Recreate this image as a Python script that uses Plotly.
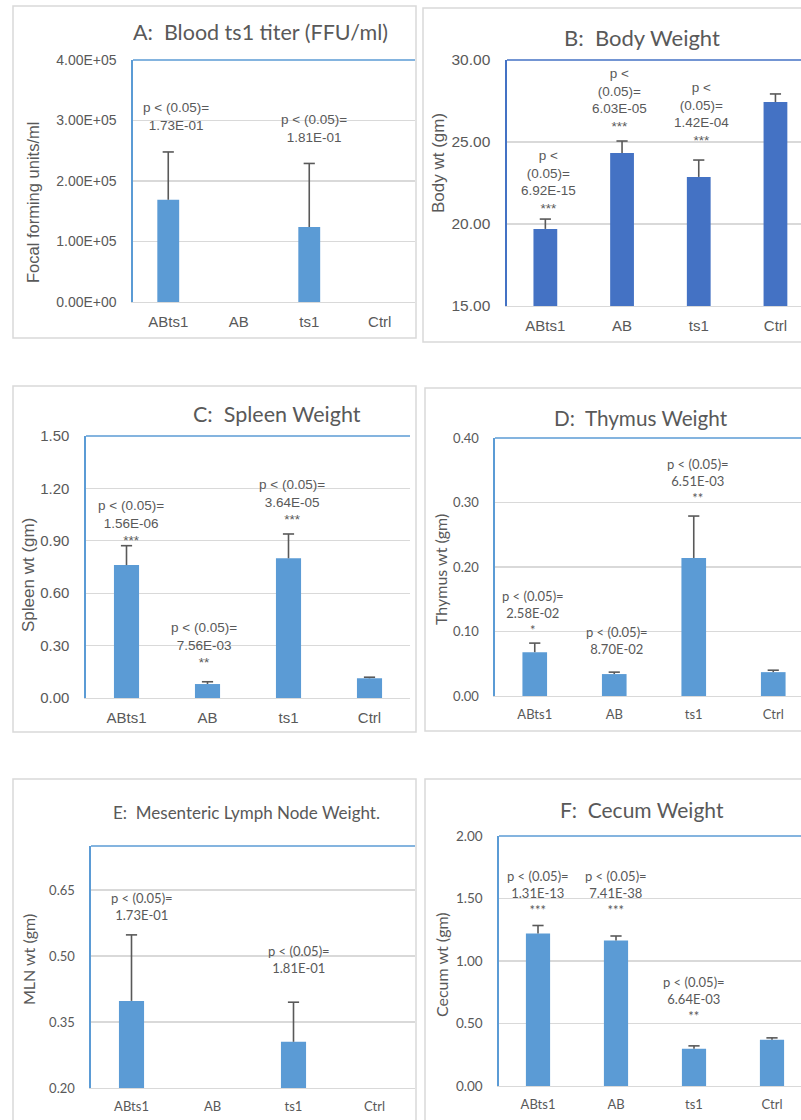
import plotly.graph_objects as go

W, H = 801, 1120
categories = ["ABts1", "AB", "ts1", "Ctrl"]

# ---------------- data ----------------
# A: Blood ts1 titer
titer_mean = [1.69e5, None, 1.24e5, None]
titer_err = [0.79e5, 0, 1.05e5, 0]
titer_p = ["1.73E-01", None, "1.81E-01", None]
titer_stars = ["", "", "", ""]
titer_tickvals = [0, 1e5, 2e5, 3e5, 4e5]
titer_ticktext = ["0.00E+00", "1.00E+05", "2.00E+05", "3.00E+05", "4.00E+05"]

# B: Body weight
body_mean = [19.70, 24.33, 22.87, 27.44]
body_err = [0.60, 0.73, 1.03, 0.49]
body_p = ["6.92E-15", "6.03E-05", "1.42E-04", None]
body_stars = ["***", "***", "***", ""]
body_tickvals = [15, 20, 25, 30]
body_ticktext = ["15.00", "20.00", "25.00", "30.00"]

# C: Spleen weight
spleen_mean = [0.761, 0.080, 0.800, 0.113]
spleen_err = [0.111, 0.013, 0.139, 0.006]
spleen_p = ["1.56E-06", "7.56E-03", "3.64E-05", None]
spleen_stars = ["***", "**", "***", ""]
spleen_tickvals = [0, 0.3, 0.6, 0.9, 1.2, 1.5]
spleen_ticktext = ["0.00", "0.30", "0.60", "0.90", "1.20", "1.50"]

# D: Thymus weight
thymus_mean = [0.068, 0.034, 0.214, 0.037]
thymus_err = [0.014, 0.003, 0.065, 0.003]
thymus_p = ["2.58E-02", "8.70E-02", "6.51E-03", None]
thymus_stars = ["*", "", "**", ""]
thymus_tickvals = [0, 0.1, 0.2, 0.3, 0.4]
thymus_ticktext = ["0.00", "0.10", "0.20", "0.30", "0.40"]

# E: Mesenteric lymph node weight
mln_mean = [0.398, None, 0.305, None]
mln_err = [0.150, 0, 0.090, 0]
mln_p = ["1.73E-01", None, "1.81E-01", None]
mln_stars = ["", "", "", ""]
mln_tickvals = [0.20, 0.35, 0.50, 0.65]
mln_ticktext = ["0.20", "0.35", "0.50", "0.65"]

# F: Cecum weight
cecum_mean = [1.220, 1.164, 0.297, 0.370]
cecum_err = [0.064, 0.036, 0.024, 0.015]
cecum_p = ["1.31E-13", "7.41E-38", "6.64E-03", None]
cecum_stars = ["***", "***", "**", ""]
cecum_tickvals = [0, 0.5, 1.0, 1.5, 2.0]
cecum_ticktext = ["0.00", "0.50", "1.00", "1.50", "2.00"]

# ---------------- layout / styling ----------------
ARIAL = "Liberation Sans, Arial, sans-serif"
CALIBRI = "Lato, Carlito, sans-serif"
GRAY = "#595959"
GRID = "#D9D9D9"
BLUE = "#5B9BD5"
DBLUE = "#4472C4"

panels = [
    dict(title="A:\u00a0 Blood ts1 titer (FFU/ml)", ytitle="Focal forming units/ml",
         mean=titer_mean, err=titer_err, p=titer_p, stars=titer_stars,
         tv=titer_tickvals, tt=titer_ticktext, yr=[0, 4e5],
         px=(133, 415, 60, 302), spacing=70.5, color=BLUE, font=ARIAL,
         tickfs=14, catfs=15, annfs=13.5, titlefs=21.5, ytfs=16.5, wrap=False,
         box=(13, 6, 416, 338), tpos=(260, 32), ytpos=(33, 203),
         laby=[3.07e5, None, 2.87e5, None], labdx=[8, 0, 5, 0]),
    dict(title="B:\u00a0 Body Weight", ytitle="Body wt (gm)",
         mean=body_mean, err=body_err, p=body_p, stars=body_stars,
         tv=body_tickvals, tt=body_ticktext, yr=[15, 30],
         px=(507, 813, 60, 306), spacing=76.7, color=DBLUE, font=ARIAL,
         tickfs=15.5, catfs=15, annfs=13.5, titlefs=22, ytfs=17, wrap=True,
         box=(423, 8, 810, 342), tpos=(642, 38), ytpos=(438, 163),
         laby=[22.56, 27.59, 26.68, None], labdx=[3, -3, 3, 0]),
    dict(title="C:\u00a0 Spleen Weight", ytitle="Spleen wt (gm)",
         mean=spleen_mean, err=spleen_err, p=spleen_p, stars=spleen_stars,
         tv=spleen_tickvals, tt=spleen_ticktext, yr=[0, 1.5],
         px=(86, 410, 436, 698), spacing=81, color=BLUE, font=ARIAL,
         tickfs=15, catfs=15, annfs=13.5, titlefs=21.5, ytfs=17, wrap=False,
         box=(13, 386, 416, 732), tpos=(277, 414), ytpos=(28, 575),
         laby=[1.0, 0.306, 1.123, None], labdx=[4, -4, 3, 0]),
    dict(title="D:\u00a0 Thymus Weight", ytitle="Thymus wt (gm)",
         mean=thymus_mean, err=thymus_err, p=thymus_p, stars=thymus_stars,
         tv=thymus_tickvals, tt=thymus_ticktext, yr=[0, 0.4],
         px=(495, 813, 438, 696), spacing=79.5, color=BLUE, font=CALIBRI,
         tickfs=13, catfs=13, annfs=13, titlefs=20.7, ytfs=16, wrap=False,
         box=(425, 388, 810, 731), tpos=(641, 418), ytpos=(440, 570),
         laby=[0.129, 0.0868, 0.333, None], labdx=[-2, 3, 4, 0]),
    dict(title="E:\u00a0 Mesenteric Lymph Node Weight.", ytitle="MLN wt (gm)",
         mean=mln_mean, err=mln_err, p=mln_p, stars=mln_stars,
         tv=mln_tickvals, tt=mln_ticktext, yr=[0.20, 0.75],
         px=(91, 415, 846, 1088), spacing=81, color=BLUE, font=CALIBRI,
         tickfs=13, catfs=13, annfs=13, titlefs=17, ytfs=16, wrap=False,
         box=(13, 779, 416, 1130), tpos=(247, 812), ytpos=(28, 960),
         laby=[0.6125, None, 0.492, None], labdx=[10, 0, 5, 0]),
    dict(title="F:\u00a0 Cecum Weight", ytitle="Cecum wt (gm)",
         mean=cecum_mean, err=cecum_err, p=cecum_p, stars=cecum_stars,
         tv=cecum_tickvals, tt=cecum_ticktext, yr=[0, 2.0],
         px=(499, 811, 836, 1086), spacing=78, color=BLUE, font=CALIBRI,
         tickfs=13.5, catfs=13, annfs=13, titlefs=21, ytfs=16, wrap=False,
         box=(425, 779, 810, 1130), tpos=(642, 809), ytpos=(441, 965),
         laby=[1.545, 1.545, 0.698, None], labdx=[0, 0, 0, 0]),
]


def fx(px):
    return px / W


def fy(py):
    return 1 - py / H


fig = go.Figure()
shapes = []
annotations = []
layout_axes = {}

for i, P in enumerate(panels, start=1):
    xa = "x" if i == 1 else f"x{i}"
    ya = "y" if i == 1 else f"y{i}"
    left, right, top, bottom = P["px"]
    right_c = min(right, W)
    xr = [-0.5, -0.5 + (right_c - left) / P["spacing"]]

    # bars
    fig.add_trace(go.Bar(
        x=categories, y=P["mean"], xaxis=xa, yaxis=ya,
        marker=dict(color=P["color"], line=dict(width=0)),
        width=0.31, showlegend=False, hoverinfo="skip",
    ))
    # plus-only error bars: stem from mean up to mean+err, cap at top
    tops = [None if m is None else m + e for m, e in zip(P["mean"], P["err"])]
    fig.add_trace(go.Scatter(
        x=categories, y=tops, xaxis=xa, yaxis=ya, mode="markers",
        marker=dict(symbol="line-ew", size=8, color=GRAY,
                    line=dict(color=GRAY, width=1.6)),
        error_y=dict(type="data", array=[0] * 4, arrayminus=P["err"],
                     symmetric=False, color=GRAY, thickness=1.6, width=0),
        showlegend=False, hoverinfo="skip", cliponaxis=False,
    ))

    layout_axes["xaxis" if i == 1 else f"xaxis{i}"] = dict(
        domain=[fx(left), fx(right_c)], anchor=ya, type="category",
        categoryorder="array", categoryarray=categories, range=xr,
        showgrid=False, zeroline=False, showline=True, linecolor=GRID, linewidth=1.2,
        ticks="", ticklabelstandoff=6, automargin=False,
        tickfont=dict(family=P["font"], size=P["catfs"], color=GRAY),
        fixedrange=True,
    )
    layout_axes["yaxis" if i == 1 else f"yaxis{i}"] = dict(
        domain=[fy(bottom), fy(top)], anchor=xa, range=P["yr"],
        tickvals=P["tv"], ticktext=P["tt"],
        showgrid=True, gridcolor=GRID, gridwidth=1.2, zeroline=False,
        showline=True, linecolor=P["color"], linewidth=1.6,
        ticks="", ticklabelstandoff=12, automargin=False,
        tickfont=dict(family=P["font"], size=P["tickfs"], color=GRAY),
        fixedrange=True,
    )

    # top border of plot area
    shapes.append(dict(type="line", xref=f"{xa} domain", yref=f"{ya} domain",
                       x0=0, x1=1, y0=1, y1=1,
                       line=dict(color=P["color"], width=1.6)))
    # panel frame
    bx0, by0, bx1, by1 = P["box"]
    shapes.append(dict(type="rect", xref="paper", yref="paper",
                       x0=fx(bx0), x1=fx(bx1), y0=fy(by1), y1=fy(by0),
                       line=dict(color=GRID, width=1.5), layer="below"))

    # title
    annotations.append(dict(text=P["title"], xref="paper", yref="paper",
                            x=fx(P["tpos"][0]), y=fy(P["tpos"][1]),
                            xanchor="center", yanchor="middle", showarrow=False,
                            font=dict(family=CALIBRI, size=P["titlefs"], color=GRAY)))
    # y-axis title
    annotations.append(dict(text=P["ytitle"], xref="paper", yref="paper",
                            x=fx(P["ytpos"][0]), y=fy(P["ytpos"][1]),
                            xanchor="center", yanchor="middle", showarrow=False,
                            textangle=-90,
                            font=dict(family=P["font"], size=P["ytfs"], color=GRAY)))
    # p-value labels
    for c, pv, st, ly, dx in zip(categories, P["p"], P["stars"], P["laby"], P["labdx"]):
        if pv is None:
            continue
        if P["wrap"]:
            lines = ["p &lt;", "(0.05)=", pv]
        else:
            lines = ["p &lt; (0.05)=", pv]
        if st:
            lines.append(st)
        annotations.append(dict(text="<br>".join(lines), xref=xa, yref=ya,
                                x=c, y=ly, xshift=dx, xanchor="center",
                                yanchor="middle", showarrow=False, align="center",
                                font=dict(family=P["font"], size=P["annfs"], color=GRAY)))

fig.update_layout(
    width=W, height=H,
    margin=dict(l=0, r=0, t=0, b=0, pad=0, autoexpand=False),
    paper_bgcolor="white", plot_bgcolor="white",
    shapes=shapes, annotations=annotations, showlegend=False,
    **layout_axes,
)

# place the figure at the page origin (no default body margin / scrollbars)
pin_script = (
    "document.body.style.margin='0px';"
    "document.body.style.overflow='hidden';"
    "var g=document.getElementById('{plot_id}');"
    "g.style.position='fixed';g.style.left='0px';g.style.top='0px';"
)

fig.write_html("out.html", post_script=pin_script,
               config={"displayModeBar": False, "staticPlot": True})
